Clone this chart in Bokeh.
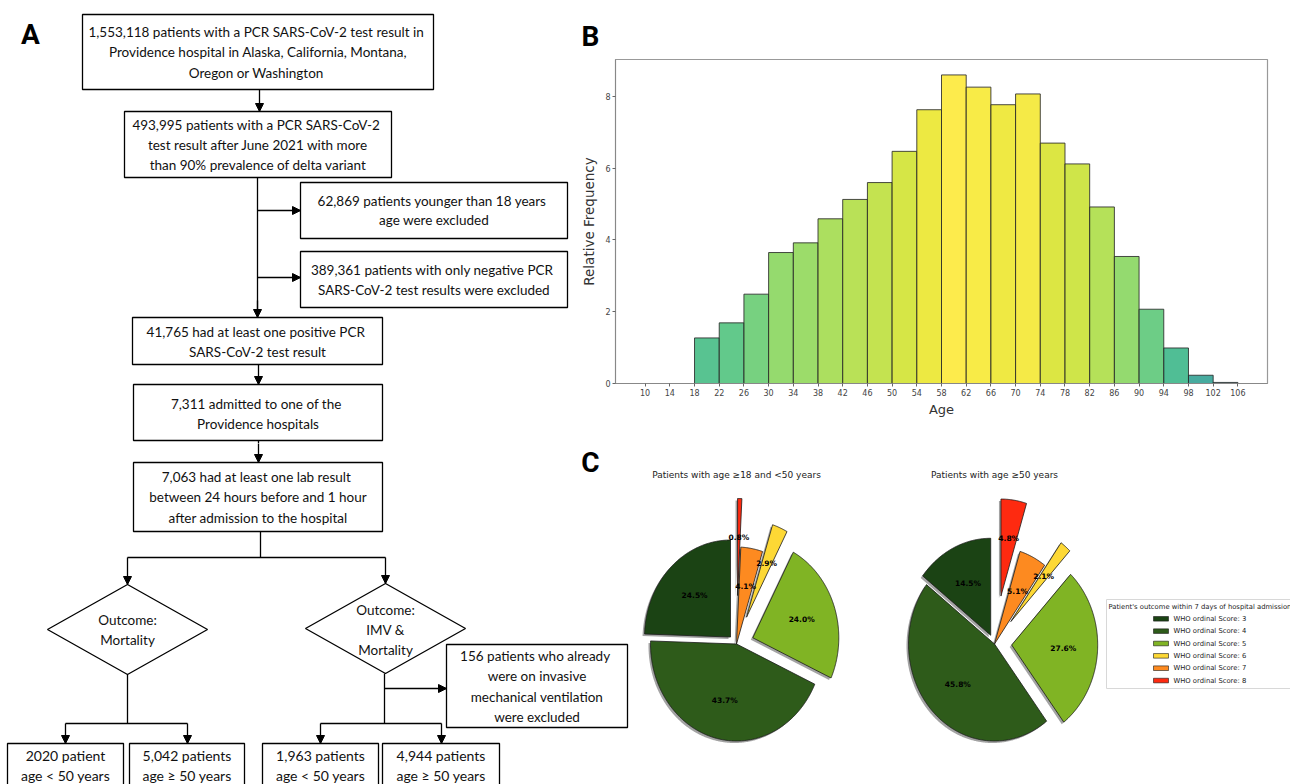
import math
import numpy as np
from bokeh.plotting import figure
from bokeh.layouts import column, row
from bokeh.models import Range1d, Title, Arrow, NormalHead, FixedTicker
from bokeh.core.properties import value
from bokeh.palettes import Viridis256
from bokeh.embed import file_html
from bokeh.resources import INLINE

# ---------------- data ----------------
flow_box_lines = [
    ["1,553,118  patients with a PCR SARS-CoV-2 test result in",
     "Providence hospital in Alaska, California, Montana,",
     "Oregon or  Washington"],
    ["493,995  patients with a PCR SARS-CoV-2",
     "test result after June 2021 with more",
     "than 90% prevalence of delta variant"],
    ["62,869  patients younger than 18 years", "age were excluded"],
    ["389,361  patients with only negative PCR", "SARS-CoV-2 test results were excluded"],
    ["41,765  had at least one positive PCR", "SARS-CoV-2 test result"],
    ["7,311  admitted to one of the", "Providence hospitals"],
    ["7,063  had at least one lab result", "between 24 hours before and 1 hour",
     "after admission to the hospital"],
    ["156  patients who already", "were on invasive", "mechanical ventilation", "were excluded"],
    ["2020 patient", "age < 50 years"],
    ["5,042 patients", "age \u2265 50 years"],
    ["1,963 patients", "age < 50 years"],
    ["4,944 patients", "age \u2265 50 years"],
]
decision_lines = [["Outcome:", "Mortality"], ["Outcome:", "IMV &", "Mortality"]]
panel_letters = ["A", "B", "C"]

age_bin_edges = [10, 14, 18, 22, 26, 30, 34, 38, 42, 46, 50, 54, 58, 62, 66, 70, 74,
                 78, 82, 86, 90, 94, 98, 102, 106]
rel_freq = [0.0, 0.0, 1.27, 1.69, 2.49, 3.65, 3.92, 4.59, 5.13, 5.60, 6.47, 7.63, 8.60,
            8.26, 7.77, 8.07, 6.70, 6.12, 4.92, 3.54, 2.07, 0.99, 0.23, 0.03]
age_ticks = [10, 14, 18, 22, 26, 30, 34, 38, 42, 46, 50, 54, 58, 62, 66, 70, 74, 78,
             82, 86, 90, 94, 98, 102, 106]
freq_ticks = [0, 2, 4, 6, 8]

who_scores = ["WHO ordinal Score: 3", "WHO ordinal Score: 4", "WHO ordinal Score: 5",
              "WHO ordinal Score: 6", "WHO ordinal Score: 7", "WHO ordinal Score: 8"]
pct_age_18_50 = [24.5, 43.7, 24.0, 2.9, 4.1, 0.8]
pct_age_50 = [14.5, 45.8, 27.6, 2.1, 5.1, 4.8]
pie_explode = [0.1, 0.0, 0.2, 0.3, 0.0, 0.5]
pie_titles = ["Patients with age \u226518 and <50 years", "Patients with age \u226550 years"]
legend_title = "Patient's outcome within 7 days of hospital admission"

# ---------------- layout / style ----------------
FLOW_FONT = "Lato"
LETTER_FONT = "Roboto"
MPL_FONT = "DejaVu Sans"
PIE_COLORS = ["#1b4314", "#2e5b1a", "#80b424", "#fdd835", "#fd8a20", "#fe2a10"]
SPLIT_Y = 443

BOXES = [(82, 14, 433, 89), (124, 111, 391, 177), (300, 182, 567, 238), (300, 251, 567, 307),
         (132, 317, 382, 364), (133, 384, 382, 440), (133, 462, 382, 531), (446, 644, 627, 727),
         (7, 743, 123, 800), (129, 743, 244, 800), (262, 743, 378, 800), (382, 743, 499, 800)]
BOX_LINE_Y = [[31, 51, 72], [124, 144, 164], [200, 219], [269, 289], [331, 351], [403, 423],
              [476, 496, 517], [655, 675, 696, 716], [755, 775], [755, 775], [755, 775], [755, 775]]
BOX_FONT_SIZE = ["13.5px"] * 8 + ["14px"] * 4
DIAMONDS = [(127, 629, 80, 45), (385, 628, 80, 45)]
DIAMOND_LINE_Y = [[619, 639], [609, 629, 649]]
LINES = [[(257, 177), (257, 317)], [(260, 531), (260, 557)], [(127, 557), (385, 557)],
         [(127, 674), (127, 723)], [(65, 723), (187, 723)], [(384, 673), (384, 723)],
         [(320, 723), (441, 723)]]
ARROWS = [((259, 89), (259, 111)), ((257, 210), (300, 210)), ((257, 277), (300, 277)),
          ((257, 300), (257, 317)), ((258, 364), (258, 384)), ((258, 440), (258, 462)),
          ((127, 557), (127, 584)), ((385, 557), (385, 583)), ((384, 688), (446, 688)),
          ((65, 723), (65, 743)), ((187, 723), (187, 743)), ((320, 723), (320, 743)),
          ((441, 723), (441, 743))]


def blank_fig(w, h, x0, x1, y0, y1):
    p = figure(width=w, height=h, x_range=Range1d(x0, x1), y_range=Range1d(y1, y0),
               output_backend="svg", toolbar_location=None, title=None,
               x_axis_type=None, y_axis_type=None, min_border=0)
    p.grid.visible = False
    p.outline_line_color = None
    p.background_fill_color = "white"
    return p


def draw_flow(p, y0, y1):
    p.quad(left=[b[0] for b in BOXES], right=[b[2] for b in BOXES],
           top=[b[1] for b in BOXES], bottom=[b[3] for b in BOXES],
           fill_color=None, line_color="black", line_width=1.3)
    p.patches(xs=[[cx - hw, cx, cx + hw, cx] for cx, cy, hw, hh in DIAMONDS],
              ys=[[cy, cy - hh, cy, cy + hh] for cx, cy, hw, hh in DIAMONDS],
              fill_color=None, line_color="black", line_width=1.3)
    segs = LINES + [[a, b] for a, b in ARROWS]
    p.multi_line(xs=[[s[0][0], s[1][0]] for s in segs], ys=[[s[0][1], s[1][1]] for s in segs],
                 line_color="black", line_width=1.3)
    for (sx, sy), (ex, ey) in ARROWS:
        if y0 < ey <= y1:
            dx, dy = ex - sx, ey - sy
            n = math.hypot(dx, dy)
            p.add_layout(Arrow(x_start=ex - 4 * dx / n, y_start=ey - 4 * dy / n, x_end=ex, y_end=ey,
                               line_alpha=0,
                               end=NormalHead(size=8, fill_color="black", line_color="black",
                                              line_width=1)))
    tx, ty, tt, ts = [], [], [], []
    for box, lines, ys, fs in zip(BOXES, flow_box_lines, BOX_LINE_Y, BOX_FONT_SIZE):
        for t, y in zip(lines, ys):
            if y0 + 7 <= y <= y1 - 7:
                tx.append((box[0] + box[2]) / 2)
                ty.append(y)
                tt.append(t)
                ts.append(fs)
    for (cx, cy, hw, hh), lines, ys in zip(DIAMONDS, decision_lines, DIAMOND_LINE_Y):
        for t, y in zip(lines, ys):
            if y0 + 7 <= y <= y1 - 7:
                tx.append(cx)
                ty.append(y)
                tt.append(t)
                ts.append("13.5px")
    p.text(x=tx, y=ty, text=tt, text_align="center", text_baseline="middle",
           text_font=value(FLOW_FONT), text_font_size=ts, text_color="#111111")


# ---- flowchart, top part ----
pA_top = blank_fig(578, SPLIT_Y, 0, 578, 0, SPLIT_Y)
draw_flow(pA_top, 0, SPLIT_Y)
pA_top.text(x=[30], y=[34], text=[panel_letters[0]], text_align="center", text_baseline="middle",
            text_font=value(LETTER_FONT), text_font_size="28px", text_font_style="bold",
            text_color="black")

# ---- flowchart, bottom part ----
pA_bot = blank_fig(640, 784 - SPLIT_Y, 0, 640, SPLIT_Y, 784)
draw_flow(pA_bot, SPLIT_Y, 784)
pA_bot.text(x=[590], y=[462], text=[panel_letters[2]], text_align="center", text_baseline="middle",
            text_font=value(LETTER_FONT), text_font_size="28px", text_font_style="bold",
            text_color="black")

# ---- histogram ----
pB = figure(width=712, height=SPLIT_Y, x_range=Range1d(5.2, 110.8), y_range=Range1d(0, 9.03),
            output_backend="svg", toolbar_location=None,
            min_border_left=36, min_border_right=23, min_border_top=59,
            min_border_bottom=SPLIT_Y - 383)
pB.title = Title(text=panel_letters[1], align="left", offset=-34, standoff=14,
                 text_font=LETTER_FONT, text_font_size="28px", text_font_style="bold",
                 text_color="black")
pB.grid.visible = False
pB.outline_line_color = "#999999"
pB.outline_line_width = 1.2
hmax = max(rel_freq)
bar_colors = [Viridis256[int(round(255 * (0.45 + 0.55 * math.sqrt(h / hmax))))] for h in rel_freq]
pB.quad(left=age_bin_edges[:-1], right=age_bin_edges[1:], bottom=0, top=rel_freq,
        fill_color=bar_colors, fill_alpha=0.82, line_color="#2a2a2a", line_width=1, line_alpha=0.85)
pB.xaxis.ticker = FixedTicker(ticks=age_ticks)
pB.yaxis.ticker = FixedTicker(ticks=freq_ticks)
pB.xaxis.axis_label = "Age"
pB.yaxis.axis_label = "Relative Frequency"
for ax in (pB.xaxis[0], pB.yaxis[0]):
    ax.axis_line_color = "#888888"
    ax.major_tick_line_color = "#666666"
    ax.major_tick_out = 3
    ax.major_tick_in = 0
    ax.minor_tick_line_color = None
    ax.major_label_text_font = MPL_FONT
    ax.major_label_text_font_size = "8px"
    ax.major_label_text_color = "#444444"
    ax.major_label_standoff = 2
    ax.axis_label_text_font = MPL_FONT
    ax.axis_label_text_font_style = "normal"
    ax.axis_label_text_color = "#333333"
pB.xaxis.axis_label_text_font_size = "13px"
pB.xaxis.axis_label_standoff = 3
pB.yaxis.axis_label_text_font_size = "13.5px"
pB.yaxis.axis_label_standoff = 5

# ---- pies ----
pC = blank_fig(650, 784 - SPLIT_Y, 640, 1290, SPLIT_Y, 784)
PIE_CENTERS = [(736, 643.5), (994, 643.5)]
RX, RY = 86, 97
for vals, (cx, cy), ttl in zip([pct_age_18_50, pct_age_50], PIE_CENTERS, pie_titles):
    total = sum(vals)
    start = 90.0
    wx, wy, sx, sy, lx, ly = [], [], [], [], [], []
    for v, e in zip(vals, pie_explode):
        sweep = 360.0 * v / total
        t1, t2 = start, start + sweep
        mid = math.radians((t1 + t2) / 2)
        ox = cx + RX * e * math.cos(mid)
        oy = cy - RY * e * math.sin(mid)
        th = np.radians(np.linspace(t1, t2, max(4, int(sweep * 2))))
        px = [ox] + list(ox + RX * np.cos(th))
        py = [oy] + list(oy - RY * np.sin(th))
        wx.append(px)
        wy.append(py)
        sx.append([x - 2 for x in px])
        sy.append([y + 2 for y in py])
        lx.append(ox + 0.6 * RX * math.cos(mid))
        ly.append(oy - 0.6 * RY * math.sin(mid))
        start = t2
    pC.patches(xs=sx, ys=sy, fill_color="#333333", fill_alpha=0.45, line_color=None)
    pC.patches(xs=wx, ys=wy, fill_color=PIE_COLORS, line_color="#1a1a1a", line_width=0.8)
    pC.text(x=lx, y=ly, text=[f"{v:.1f}%" for v in vals], text_align="center",
            text_baseline="middle", text_font=value(MPL_FONT), text_font_size="7.5px",
            text_font_style="bold", text_color="black")
    pC.text(x=[cx], y=[474], text=[ttl], text_align="center", text_baseline="middle",
            text_font=value(MPL_FONT), text_font_size="9px", text_color="#222222")

# legend (manual, matplotlib-like)
pC.quad(left=[1106], right=[1300], top=[599], bottom=[688], fill_color="white",
        line_color="#d8d8d8", line_width=1)
pC.text(x=[1108], y=[606], text=[legend_title], text_align="left", text_baseline="middle",
        text_font=value(MPL_FONT), text_font_size="6.8px", text_color="#222222")
row_y = [618.3 + 12.35 * i for i in range(len(who_scores))]
pC.quad(left=[1153] * len(who_scores), right=[1168] * len(who_scores),
        top=[y - 2.3 for y in row_y], bottom=[y + 2.3 for y in row_y],
        fill_color=PIE_COLORS, line_color="#1a1a1a", line_width=0.6)
pC.text(x=[1173] * len(who_scores), y=row_y, text=who_scores, text_align="left",
        text_baseline="middle", text_font=value(MPL_FONT), text_font_size="6.8px",
        text_color="#222222")

layout = column(row(column(pA_top), column(pB)), row(pA_bot, pC))
open("out.html", "w").write(file_html(layout, INLINE, title="Figure"))
